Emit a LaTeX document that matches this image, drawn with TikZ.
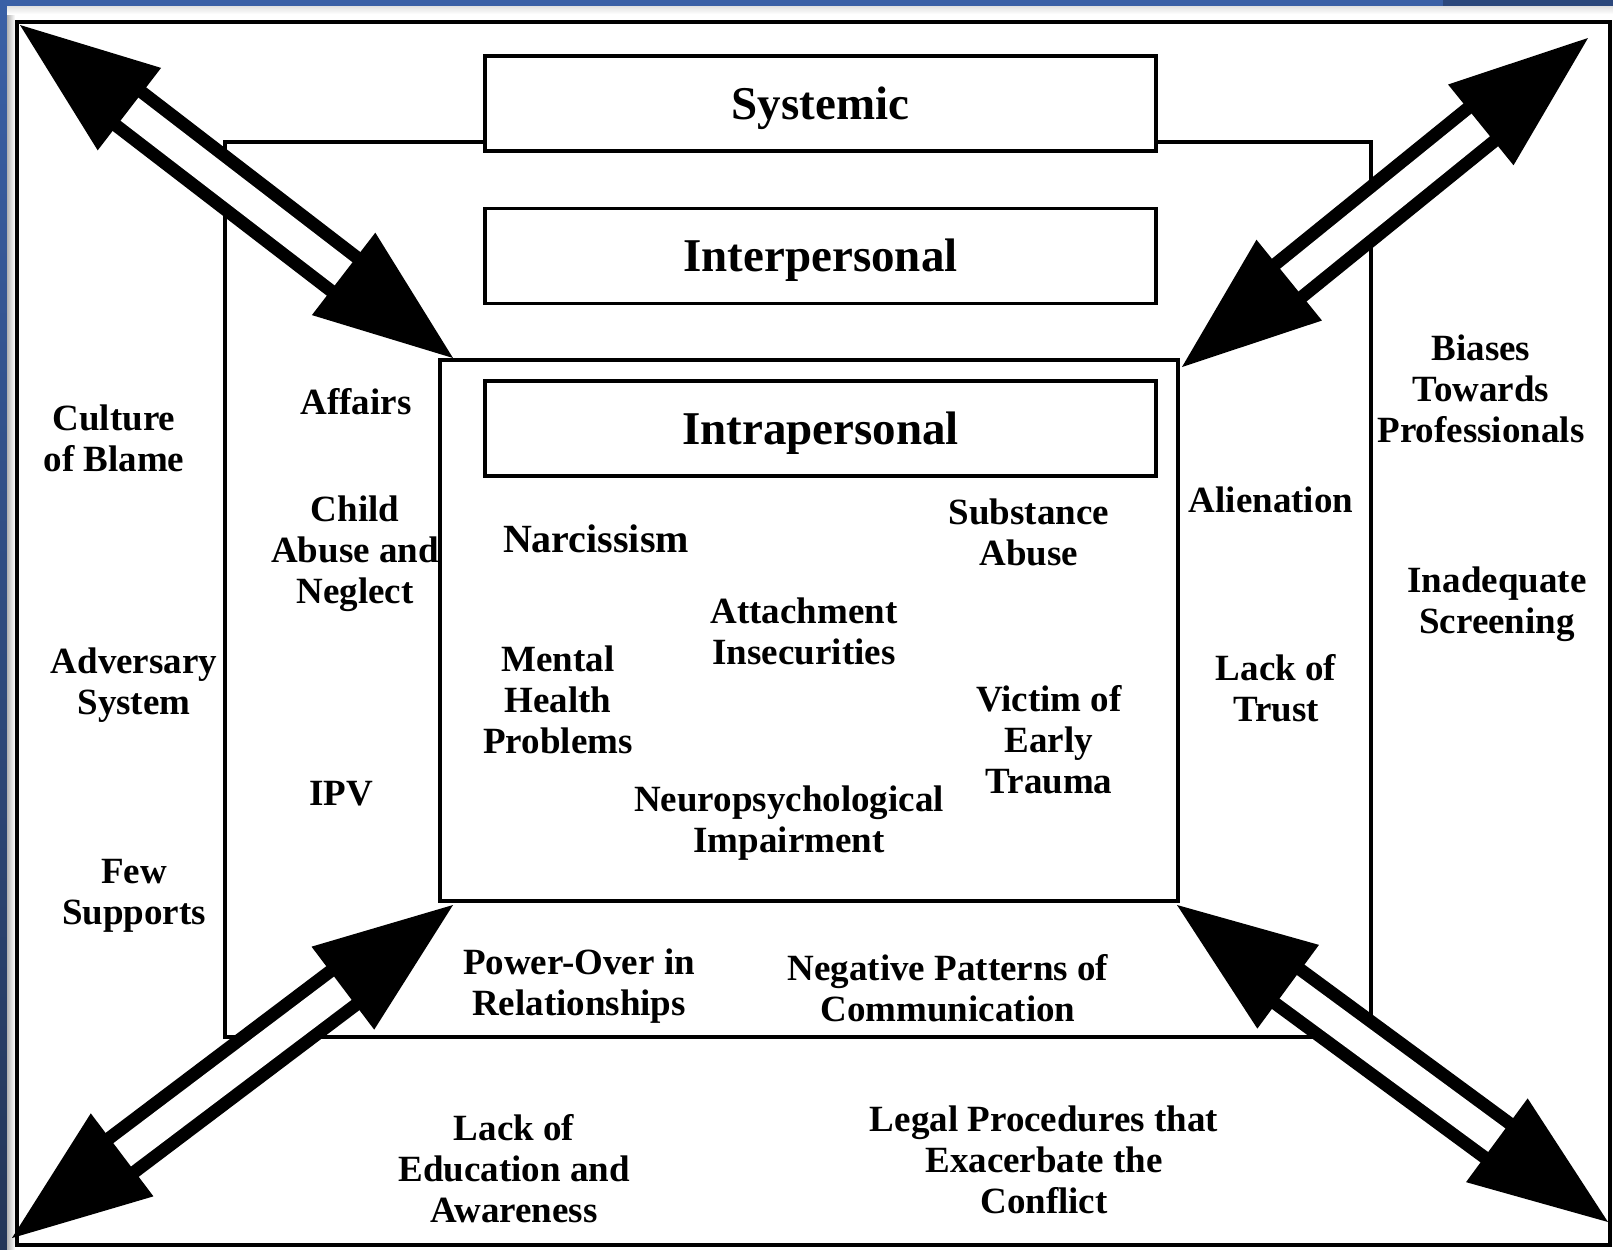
\documentclass[tikz,border=0pt]{standalone}
\usepackage{fontspec}
\setmainfont{Liberation Serif}
\usetikzlibrary{calc}
\definecolor{bluetop}{RGB}{58,96,166}
\definecolor{bluedark}{RGB}{44,72,124}
\definecolor{blueleftb}{RGB}{36,54,88}
\tikzset{
  frame/.style={draw, line width=1.6pt},
  titlebox/.style={draw, fill=white, line width=1.7pt, minimum width=335.5pt,
    minimum height=47.5pt, inner sep=0pt, text height=15.5pt, text depth=0pt,
    font=\fontsize{23.5}{28}\selectfont\bfseries},
  lbl/.style={align=center, inner sep=0pt, font=\fontsize{18.5}{20.5}\selectfont\bfseries},
  dblshaft/.style={line width=6.5pt, double=white, double distance=14.5pt},
}
\newcommand\dblarrow[2]{%
  \coordinate (hA) at ($(#1)!68pt!(#2)$);
  \coordinate (hB) at ($(#2)!68pt!(#1)$);
  \draw[dblshaft] (hA) -- (hB);
  \coordinate (bA) at ($(#1)!69pt!(#2)$);
  \coordinate (bB) at ($(#2)!69pt!(#1)$);
  \fill (#1) -- ($(bA)!26pt!90:(#2)$) -- ($(bA)!26pt!-90:(#2)$) -- cycle;
  \fill (#2) -- ($(bB)!26pt!90:(#1)$) -- ($(bB)!26pt!-90:(#1)$) -- cycle;
}
\begin{document}
\begin{tikzpicture}[x=0.5pt,y=-0.5pt]
\useasboundingbox (0,0) rectangle (1613,1249);
% background
\shade[top color=bluetop, bottom color=blueleftb] (0,0) rectangle (7,1249);
\fill[bluetop] (0,0) rectangle (1443,6);
\fill[bluedark] (1443,0) rectangle (1613,6);
\fill[white] (7,6) rectangle (1613,1249);
\shade[left color=black!30, right color=white] (7,6) rectangle (15,1249);
\shade[top color=black!12, bottom color=white] (7,6) rectangle (1613,14);
% frames
\draw[frame] (17,22) rectangle (1610,1245);
\draw[frame] (225,142) rectangle (1371,1037);
\draw[frame] (440,360) rectangle (1178,901);
% level boxes
\node[titlebox] (sys) at (820.5,103.5) {Systemic};
\node[titlebox] (inter) at (820.5,256) {Interpersonal};
\node[titlebox] (intra) at (820.5,428.5) {Intrapersonal};
% arrow end points
\coordinate (tlo) at (20,25);
\coordinate (tli) at (453,358);
\coordinate (tro) at (1588,38);
\coordinate (tri) at (1182,367);
\coordinate (bli) at (453,905);
\coordinate (blo) at (12,1238);
\coordinate (bri) at (1177,905);
\coordinate (bro) at (1608,1222);
\dblarrow{tlo}{tli}
\dblarrow{tro}{tri}
\dblarrow{bli}{blo}
\dblarrow{bri}{bro}
% labels
\node[lbl] (culture) at (114,438) {Culture\\of Blame};
\node[lbl] (adversary) at (134,685) {Adversary\\System};
\node[lbl] (few) at (134,896) {Few\\Supports};
\node[lbl] (affairs) at (356,402) {Affairs};
\node[lbl] (child) at (355,554) {Child\\Abuse and\\Neglect};
\node[lbl] (ipv) at (341,794) {IPV};
\node[lbl, font=\fontsize{20}{22}\selectfont\bfseries] (narc) at (596,539) {Narcissism};
\node[lbl] (subst) at (1029,532) {Substance\\Abuse};
\node[lbl] (attach) at (804,631) {Attachment\\Insecurities};
\node[lbl] (mental) at (558,700) {Mental\\Health\\Problems};
\node[lbl] (victim) at (1049,740) {Victim of\\Early\\Trauma};
\node[lbl] (neuro) at (789,823) {Neuropsychological\\Impairment};
\node[lbl] (alien) at (1271,500) {Alienation};
\node[lbl] (trust) at (1276,688) {Lack of\\Trust};
\node[lbl] (biases) at (1481,389) {Biases\\Towards\\Professionals};
\node[lbl] (inadeq) at (1497,604) {Inadequate\\Screening};
\node[lbl] (power) at (579,986) {Power-Over in\\Relationships};
\node[lbl] (neg) at (948,988) {Negative Patterns of\\Communication};
\node[lbl] (educ) at (514,1169) {Lack of\\Education and\\Awareness};
\node[lbl] (legal) at (1044,1160) {Legal Procedures that\\Exacerbate the\\Conflict};
\end{tikzpicture}
\end{document}
